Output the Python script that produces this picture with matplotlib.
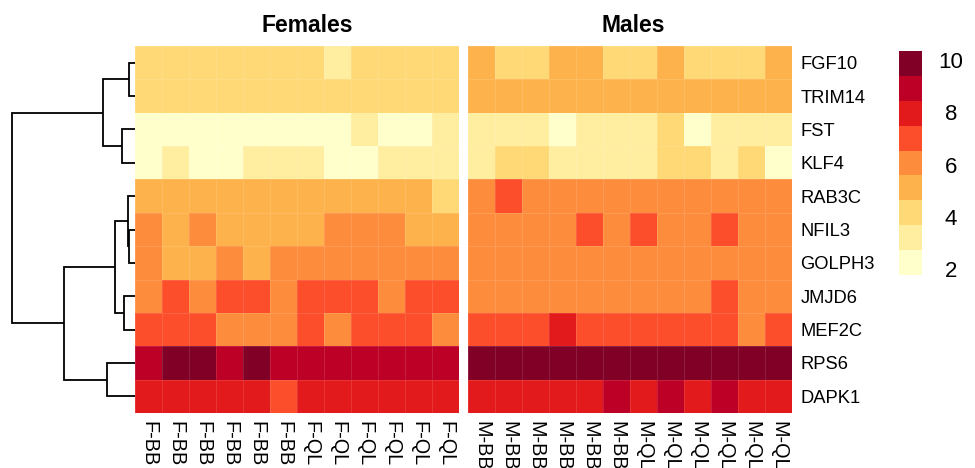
import numpy as np
import matplotlib
matplotlib.use("Agg")
import matplotlib.pyplot as plt
from matplotlib.colors import ListedColormap, BoundaryNorm
from matplotlib.cm import ScalarMappable

plt.rcParams['font.family'] = ['Liberation Sans', 'DejaVu Sans']

# ---------------- data ----------------
genes = ["FGF10", "TRIM14", "FST", "KLF4", "RAB3C", "NFIL3",
         "GOLPH3", "JMJD6", "MEF2C", "RPS6", "DAPK1"]
female_cols = ["F-BB"] * 6 + ["F-QL"] * 6
male_cols = ["M-BB"] * 6 + ["M-QL"] * 6

females = [
    [4.2, 4.2, 4.2, 4.2, 4.2, 4.2, 4.2, 3.2, 4.2, 4.2, 4.2, 4.2],  # FGF10
    [4.2, 4.2, 4.2, 4.2, 4.2, 4.2, 4.2, 4.2, 4.2, 4.2, 4.2, 4.2],  # TRIM14
    [2.3, 2.3, 2.3, 2.3, 2.3, 2.3, 2.3, 2.3, 3.2, 2.3, 2.3, 3.2],  # FST
    [2.3, 3.2, 2.3, 2.3, 3.2, 3.2, 3.2, 2.3, 2.3, 3.2, 3.2, 3.2],  # KLF4
    [5.1, 5.1, 5.1, 5.1, 5.1, 5.1, 5.1, 5.1, 5.1, 5.1, 5.1, 4.2],  # RAB3C
    [6.1, 5.1, 6.1, 5.1, 5.1, 5.1, 5.1, 6.1, 6.1, 6.1, 5.1, 5.1],  # NFIL3
    [6.1, 5.1, 5.1, 6.1, 5.1, 6.1, 6.1, 6.1, 6.1, 6.1, 6.1, 6.1],  # GOLPH3
    [6.1, 7.0, 6.1, 7.0, 7.0, 6.1, 7.0, 7.0, 7.0, 6.1, 7.0, 7.0],  # JMJD6
    [7.0, 7.0, 7.0, 6.1, 6.1, 6.1, 7.0, 6.1, 7.0, 7.0, 7.0, 6.1],  # MEF2C
    [8.9, 9.9, 9.9, 8.9, 9.9, 8.9, 8.9, 8.9, 8.9, 8.9, 8.9, 8.9],  # RPS6
    [8.0, 8.0, 8.0, 8.0, 8.0, 7.0, 8.0, 8.0, 8.0, 8.0, 8.0, 8.0],  # DAPK1
]
males = [
    [5.1, 4.2, 4.2, 5.1, 5.1, 4.2, 4.2, 5.1, 4.2, 4.2, 4.2, 5.1],  # FGF10
    [5.1, 5.1, 5.1, 5.1, 5.1, 5.1, 5.1, 5.1, 5.1, 5.1, 5.1, 5.1],  # TRIM14
    [3.2, 3.2, 3.2, 2.3, 3.2, 3.2, 3.2, 4.2, 2.3, 3.2, 3.2, 3.2],  # FST
    [3.2, 4.2, 4.2, 3.2, 3.2, 3.2, 3.2, 4.2, 4.2, 3.2, 4.2, 2.3],  # KLF4
    [6.1, 7.0, 6.1, 6.1, 6.1, 6.1, 6.1, 6.1, 6.1, 6.1, 6.1, 6.1],  # RAB3C
    [6.1, 6.1, 6.1, 6.1, 7.0, 6.1, 7.0, 6.1, 6.1, 7.0, 6.1, 6.1],  # NFIL3
    [6.1, 6.1, 6.1, 6.1, 6.1, 6.1, 6.1, 6.1, 6.1, 6.1, 6.1, 6.1],  # GOLPH3
    [6.1, 6.1, 6.1, 6.1, 6.1, 6.1, 6.1, 6.1, 6.1, 7.0, 6.1, 6.1],  # JMJD6
    [7.0, 7.0, 7.0, 8.0, 7.0, 7.0, 7.0, 7.0, 7.0, 7.0, 6.1, 7.0],  # MEF2C
    [9.9, 9.9, 9.9, 9.9, 9.9, 9.9, 9.9, 9.9, 9.9, 9.9, 9.9, 9.9],  # RPS6
    [8.0, 8.0, 8.0, 8.0, 8.0, 8.9, 8.0, 8.9, 8.0, 8.9, 8.0, 8.0],  # DAPK1
]

# dendrogram merges (scipy-like): (child_a, child_b, height); leaves 0..10
merges = [
    (0, 1, 0.49),    # 11 FGF10-TRIM14
    (5, 6, 0.45),    # 12 NFIL3-GOLPH3
    (4, 12, 0.59),   # 13
    (7, 8, 0.87),    # 14 JMJD6-MEF2C
    (2, 3, 1.08),    # 15 FST-KLF4
    (13, 14, 1.63),  # 16
    (9, 10, 2.30),   # 17 RPS6-DAPK1
    (11, 15, 2.58),  # 18
    (16, 17, 5.75),  # 19
    (18, 19, 10.0),  # 20 root
]

colors = ["#ffffcc", "#ffeda0", "#fed976", "#feb24c", "#fd8d3c",
          "#fc4e2a", "#e31a1c", "#bd0026", "#800026"]
vmin, vmax = 1.78, 10.34
cbar_ticks = [2, 4, 6, 8, 10]

# ---------------- figure ----------------
W, H = 975, 468
fig = plt.figure(figsize=(W / 100, H / 100), dpi=100)

def rect(x0, y0, x1, y1):
    return [x0 / W, 1 - y1 / H, (x1 - x0) / W, (y1 - y0) / H]

cmap = ListedColormap(colors)
norm = BoundaryNorm(np.linspace(vmin, vmax, len(colors) + 1), cmap.N)

top, bot = 46, 413
axF = fig.add_axes(rect(135, top, 459, bot))
axM = fig.add_axes(rect(468, top, 792, bot))

for ax, data, cols, title, tx in [(axF, females, female_cols, "Females", 0.531),
                                  (axM, males, male_cols, "Males", 0.509)]:
    arr = np.array(data)
    ax.pcolormesh(arr, cmap=cmap, norm=norm, edgecolors=(1, 1, 1, 0.12), linewidth=0.4)
    ax.set_xlim(0, arr.shape[1])
    ax.set_ylim(arr.shape[0], 0)
    ax.set_xticks(np.arange(arr.shape[1]) + 0.5)
    ax.set_xticklabels(cols, rotation=-90, fontsize=14.3)
    ax.tick_params(axis='x', length=0, pad=6)
    ax.set_yticks([])
    for s in ax.spines.values():
        s.set_visible(False)
    ax.set_title(title, fontsize=16.5, fontweight='bold', pad=10, x=tx)

axM.yaxis.tick_right()
axM.set_yticks(np.arange(len(genes)) + 0.5)
axM.set_yticklabels(genes, fontsize=13.2)
axM.tick_params(axis='y', length=0, pad=6)

# ---------------- dendrogram ----------------
axD = fig.add_axes(rect(0, top, 135, bot))
n = len(genes)
ypos = {i: i + 0.5 for i in range(n)}
hts = {i: 0.0 for i in range(n)}
for k, (a, b, h) in enumerate(merges):
    node = n + k
    ya, yb = ypos[a], ypos[b]
    axD.plot([hts[a], h, h, hts[b]], [ya, ya, yb, yb], color='black', lw=1.3,
             solid_joinstyle='miter', solid_capstyle='butt')
    ypos[node] = (ya + yb) / 2
    hts[node] = h
root_h = merges[-1][2]
axD.set_xlim(root_h * 135 / 123, 0)
axD.set_ylim(n, 0)
axD.axis('off')

# ---------------- colorbar ----------------
cax = fig.add_axes(rect(899, 51, 922, 275))
cb = fig.colorbar(ScalarMappable(norm=norm, cmap=cmap), cax=cax, ticks=cbar_ticks)
cb.outline.set_visible(False)
cax.minorticks_off()
cax.tick_params(which='both', length=0, pad=21, labelsize=16)
for lbl in cax.get_yticklabels():
    lbl.set_horizontalalignment('center')

fig.savefig("out.png", dpi=100)
